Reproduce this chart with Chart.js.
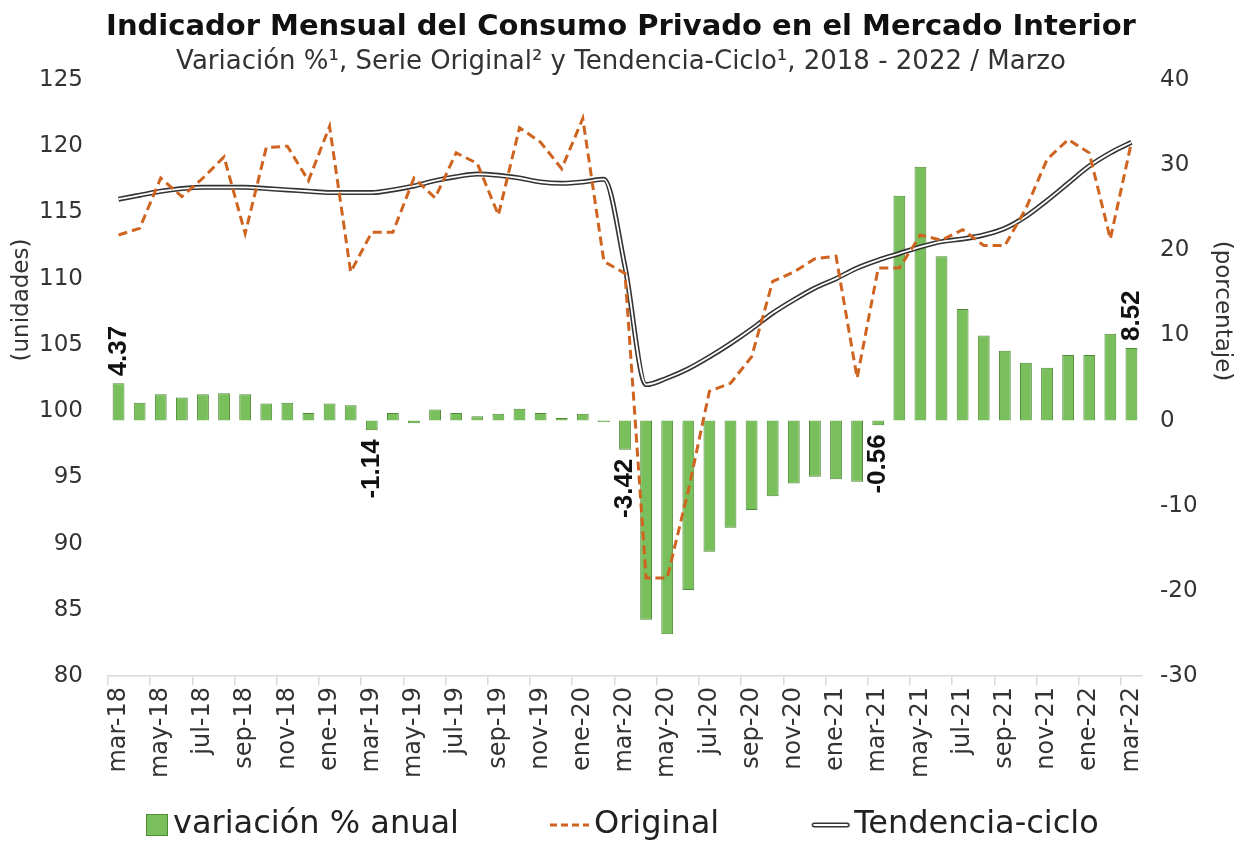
<!DOCTYPE html>
<html lang="es">
<head>
<meta charset="utf-8">
<title>Indicador Mensual del Consumo Privado en el Mercado Interior</title>
<script src="https://cdn.jsdelivr.net/npm/chart.js@4.4.1/dist/chart.umd.min.js"></script>
<style>
  html, body { margin: 0; padding: 0; background: #fff; }
  #wrap { width: 1242px; height: 845px; }
</style>
</head>
<body>
<div id="wrap"><canvas id="grafica" width="1242" height="845"></canvas></div>
<script>
// Datos (marzo 2018 - marzo 2022)
const meses = [
    'mar-18', 'abr-18', 'may-18', 'jun-18', 'jul-18', 'ago-18', 'sep-18', 'oct-18', 'nov-18', 'dic-18',
    'ene-19', 'feb-19', 'mar-19', 'abr-19', 'may-19', 'jun-19', 'jul-19', 'ago-19', 'sep-19', 'oct-19', 'nov-19', 'dic-19',
    'ene-20', 'feb-20', 'mar-20', 'abr-20', 'may-20', 'jun-20', 'jul-20', 'ago-20', 'sep-20', 'oct-20', 'nov-20', 'dic-20',
    'ene-21', 'feb-21', 'mar-21', 'abr-21', 'may-21', 'jun-21', 'jul-21', 'ago-21', 'sep-21', 'oct-21', 'nov-21', 'dic-21',
    'ene-22', 'feb-22', 'mar-22'
];

// variación % anual (eje derecho)
const variacion = [
    4.37, 2.1, 3.1, 2.7, 3.1, 3.2, 3.1, 2.0, 2.1, 0.9,
    2.0, 1.8, -1.14, 0.9, -0.3, 1.3, 0.9, 0.5, 0.8, 1.4, 0.9, 0.3,
    0.8, -0.2, -3.42, -23.4, -25.1, -19.9, -15.4, -12.6, -10.5, -8.9, -7.4, -6.6,
    -6.9, -7.2, -0.56, 26.4, 29.8, 19.3, 13.1, 10.0, 8.2, 6.8, 6.2, 7.7,
    7.7, 10.2, 8.52
];

// serie original (eje izquierdo)
const original = [
    113.3, 113.8, 117.6, 116.2, 117.6, 119.2, 113.4, 119.9, 120.0, 117.4,
    121.5, 110.5, 113.5, 113.5, 117.6, 116.1, 119.5, 118.7, 114.8, 121.4, 120.3, 118.3,
    122.1, 111.3, 110.4, 87.4, 87.4, 94.0, 101.5, 102.1, 104.1, 109.8, 110.5, 111.5,
    111.7, 102.5, 110.8, 110.8, 113.3, 112.9, 113.7, 112.5, 112.5, 115.3, 119.0, 120.5,
    119.5, 113.0, 120.3
];

// tendencia-ciclo (eje izquierdo)
const tendencia = [
    116.0, 116.3, 116.6, 116.8, 116.9, 116.9, 116.9, 116.8, 116.7, 116.6,
    116.5, 116.5, 116.5, 116.7, 117.0, 117.4, 117.7, 117.9, 117.8, 117.6, 117.3, 117.2,
    117.3, 117.5, 110.9, 102.0, 102.5, 103.2, 104.1, 105.1, 106.2, 107.4, 108.4, 109.3,
    110.0, 110.8, 111.4, 111.9, 112.4, 112.8, 113.0, 113.3, 113.8, 114.7, 115.9, 117.2,
    118.5, 119.5, 120.3
];

// meses con etiqueta de dato
const conEtiqueta = ['mar-18', 'mar-19', 'mar-20', 'mar-21', 'mar-22'];

const ticksIzq = { min: 80, max: 125, paso: 5 };
const ticksDer = { min: -30, max: 40, paso: 10 };

const VERDE = '#79bf5b';
const VERDE_BORDE = '#4f8a36';
const NARANJA = '#cf6420';
const FUENTE = '"DejaVu Sans", sans-serif';

// Muestras de la leyenda (canvas pequeños, el dibujo queda pegado al texto)
function muestraLeyenda(tipo) {
    const c = document.createElement('canvas');
    c.width = 124;
    c.height = 32;
    const g = c.getContext('2d');
    if (tipo === 'barra') {
        g.fillStyle = VERDE;
        g.fillRect(98, 5, 22, 22);
        g.strokeStyle = VERDE_BORDE;
        g.lineWidth = 1;
        g.strokeRect(98.5, 5.5, 21, 21);
    } else if (tipo === 'original') {
        g.strokeStyle = NARANJA;
        g.lineWidth = 3;
        g.setLineDash([7, 4]);
        g.beginPath();
        g.moveTo(81, 16);
        g.lineTo(120, 16);
        g.stroke();
    } else {
        g.lineCap = 'round';
        g.strokeStyle = '#333';
        g.lineWidth = 5;
        g.beginPath();
        g.moveTo(85, 16);
        g.lineTo(118, 16);
        g.stroke();
        g.strokeStyle = '#fff';
        g.lineWidth = 1.8;
        g.stroke();
    }
    return c;
}

const muestras = {
    barra: muestraLeyenda('barra'),
    original: muestraLeyenda('original'),
    tendencia: muestraLeyenda('tendencia')
};

// Etiquetas de dato verticales y títulos de ejes
const etiquetasPlugin = {
    id: 'etiquetas',
    afterDatasetsDraw(chart) {
        const ctx = chart.ctx;
        const meta = chart.getDatasetMeta(0);
        ctx.save();
        ctx.font = 'bold 26px "Liberation Sans", Arial, sans-serif';
        ctx.fillStyle = '#111';
        ctx.textBaseline = 'middle';
        conEtiqueta.forEach(mes => {
            const i = meses.indexOf(mes);
            const barra = meta.data[i];
            const valor = variacion[i];
            ctx.save();
            if (valor >= 0) {
                ctx.translate(barra.x, barra.y - 7);
                ctx.rotate(-Math.PI / 2);
                ctx.textAlign = 'left';
            } else {
                ctx.translate(barra.x, barra.y + 9);
                ctx.rotate(-Math.PI / 2);
                ctx.textAlign = 'right';
            }
            ctx.fillText(valor.toFixed(2), 0, 0);
            ctx.restore();
        });
        ctx.restore();
    },
    afterDraw(chart) {
        const ctx = chart.ctx;
        ctx.save();
        ctx.font = '23px ' + FUENTE;
        ctx.fillStyle = '#333';
        ctx.textAlign = 'center';
        ctx.textBaseline = 'middle';
        ctx.translate(22, 300);
        ctx.rotate(-Math.PI / 2);
        ctx.fillText('(unidades)', 0, 0);
        ctx.restore();
        ctx.save();
        ctx.font = '23px ' + FUENTE;
        ctx.fillStyle = '#333';
        ctx.textAlign = 'center';
        ctx.textBaseline = 'middle';
        ctx.translate(1222, 311);
        ctx.rotate(Math.PI / 2);
        ctx.fillText('(porcentaje)', 0, 0);
        ctx.restore();
    }
};

const ctx = document.getElementById('grafica').getContext('2d');
new Chart(ctx, {
    type: 'bar',
    data: {
        labels: meses,
        datasets: [{
            type: 'bar',
            label: 'variación % anual',
            data: variacion,
            yAxisID: 'y1',
            backgroundColor: VERDE,
            borderColor: VERDE_BORDE,
            borderWidth: 1,
            categoryPercentage: 1,
            barPercentage: 0.56,
            order: 10
        }, {
            type: 'line',
            label: 'Original',
            data: original,
            yAxisID: 'y',
            borderColor: NARANJA,
            borderWidth: 3,
            borderDash: [9, 5],
            pointRadius: 0,
            tension: 0,
            fill: false,
            order: 1
        }, {
            type: 'line',
            label: 'Tendencia-ciclo',
            data: tendencia,
            yAxisID: 'y',
            borderColor: '#333',
            borderWidth: 5,
            pointRadius: 0,
            cubicInterpolationMode: 'monotone',
            fill: false,
            order: 3
        }, {
            type: 'line',
            label: 'Tendencia-ciclo (interior)',
            data: tendencia,
            yAxisID: 'y',
            borderColor: '#ffffff',
            borderWidth: 1.8,
            pointRadius: 0,
            cubicInterpolationMode: 'monotone',
            fill: false,
            order: 2
        }]
    },
    options: {
        responsive: false,
        animation: false,
        devicePixelRatio: 1,
        layout: {
            padding: { top: 0, left: 38, right: 38, bottom: -6 }
        },
        plugins: {
            title: {
                display: true,
                text: 'Indicador Mensual del Consumo Privado en el Mercado Interior',
                color: '#111',
                font: { family: FUENTE, size: 29, weight: 'bold' },
                padding: { top: 10, bottom: 0 }
            },
            subtitle: {
                display: true,
                text: 'Variación %¹, Serie Original² y Tendencia-Ciclo¹, 2018 - 2022 / Marzo',
                color: '#333',
                font: { family: FUENTE, size: 26 },
                padding: { top: 2, bottom: 2 }
            },
            legend: {
                display: true,
                position: 'bottom',
                align: 'start',
                labels: {
                    usePointStyle: true,
                    pointStyleWidth: 94,
                    padding: 25,
                    color: '#222',
                    font: { family: FUENTE, size: 32 },
                    generateLabels: () => [
                        { text: 'variación % anual', pointStyle: muestras.barra, fillStyle: VERDE, strokeStyle: VERDE_BORDE, lineWidth: 0, datasetIndex: 0, fontColor: '#222' },
                        { text: 'Original', pointStyle: muestras.original, fillStyle: NARANJA, strokeStyle: NARANJA, lineWidth: 0, datasetIndex: 1, fontColor: '#222' },
                        { text: 'Tendencia-ciclo', pointStyle: muestras.tendencia, fillStyle: '#333', strokeStyle: '#333', lineWidth: 0, datasetIndex: 2, fontColor: '#222' }
                    ]
                }
            },
            tooltip: { enabled: false }
        },
        scales: {
            x: {
                type: 'category',
                offset: true,
                grid: {
                    display: true,
                    offset: true,
                    drawOnChartArea: false,
                    drawTicks: true,
                    tickLength: 9,
                    lineWidth: 1.5,
                    color: (c) => (c.index % 2 === 0 ? '#d9d9d9' : 'rgba(0,0,0,0)')
                },
                border: { display: true, color: '#d9d9d9', width: 1.5 },
                ticks: {
                    autoSkip: false,
                    maxRotation: 90,
                    minRotation: 90,
                    padding: 2,
                    color: '#333',
                    font: { family: FUENTE, size: 24 },
                    callback: function (valor, i) {
                        return i % 2 === 0 ? this.getLabelForValue(valor) : '';
                    }
                },
                afterFit: (escala) => { escala.height = 108; }
            },
            y: {
                type: 'linear',
                position: 'left',
                min: ticksIzq.min,
                max: ticksIzq.max,
                grid: { display: false, drawTicks: false },
                border: { display: false },
                ticks: {
                    stepSize: ticksIzq.paso,
                    padding: 25,
                    color: '#333',
                    font: { family: FUENTE, size: 23 }
                },
                afterFit: (escala) => { escala.width = 70; }
            },
            y1: {
                type: 'linear',
                position: 'right',
                min: ticksDer.min,
                max: ticksDer.max,
                grid: { display: false, drawTicks: false },
                border: { display: false },
                ticks: {
                    stepSize: ticksDer.paso,
                    padding: 18,
                    color: '#333',
                    font: { family: FUENTE, size: 23 }
                },
                afterFit: (escala) => { escala.width = 62; }
            }
        }
    },
    plugins: [etiquetasPlugin]
});
</script>
</body>
</html>
